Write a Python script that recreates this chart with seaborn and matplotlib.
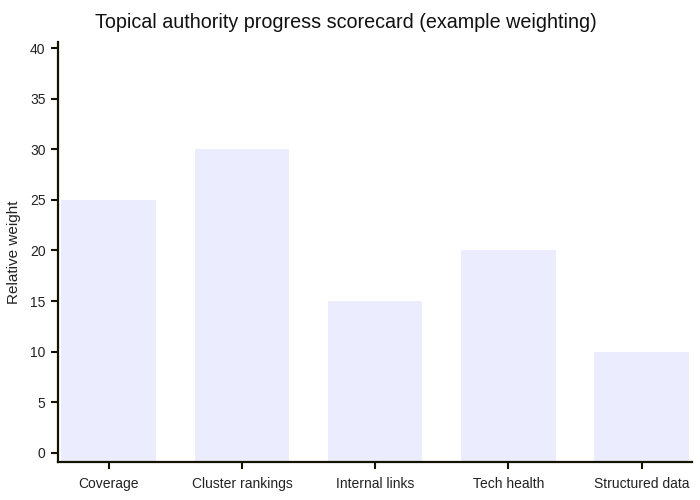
import pandas as pd
import matplotlib
matplotlib.use('Agg')
import matplotlib.pyplot as plt
import seaborn as sns

categories = ['Coverage', 'Cluster rankings', 'Internal links', 'Tech health', 'Structured data']
weights = [25, 30, 15, 20, 10]

df = pd.DataFrame({'category': categories, 'weight': weights})

sns.set_style('white')
plt.rcParams['font.family'] = ['Liberation Sans', 'DejaVu Sans']

axis_col = '#131300'
y_floor = -0.9

fig = plt.figure(figsize=(7, 5), dpi=100)
ax = fig.add_axes([0.083, 0.076, 0.906, 0.84])

sns.barplot(x='category', y='weight', data=df, color='#ECECFF', saturation=1,
            width=0.71, ax=ax, edgecolor='none')

# bars start from the bottom axis line, not from 0
for p in ax.patches:
    top = p.get_y() + p.get_height()
    p.set_y(y_floor)
    p.set_height(top - y_floor)

ax.set_ylim(y_floor, 40.6)
ax.set_xlim(-0.38, 4.38)
ax.set_yticks(range(0, 41, 5))

for side in ['top', 'right']:
    ax.spines[side].set_visible(False)
for side in ['left', 'bottom']:
    ax.spines[side].set_color(axis_col)
    ax.spines[side].set_linewidth(1.6)

ax.tick_params(axis='both', colors=axis_col, length=5, width=1.5, direction='out',
               labelcolor='#222222', labelsize=10, left=True, bottom=True)
ax.tick_params(axis='x', pad=6)
ax.tick_params(axis='y', pad=4)

ax.set_xlabel('')
ax.set_ylabel('Relative weight', fontsize=11, color='#222222')
ax.yaxis.set_label_coords(-0.058, 0.5)
fig.suptitle('Topical authority progress scorecard (example weighting)',
             fontsize=14.2, y=0.975, x=0.494, color='#111111')

fig.savefig('out.png', dpi=100)
